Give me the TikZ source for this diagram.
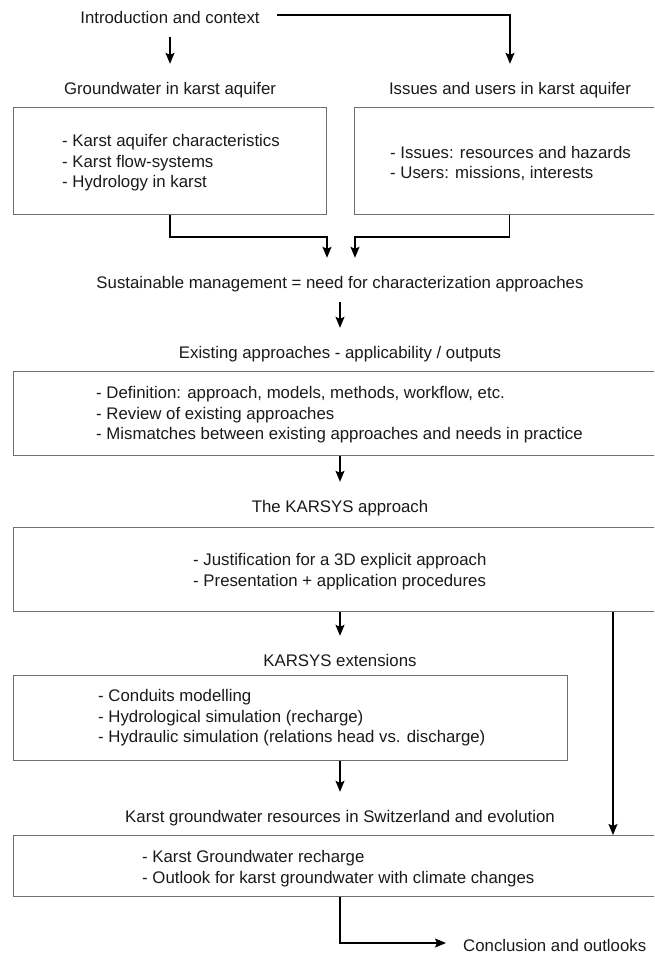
\documentclass[tikz,border=0pt]{standalone}
\usepackage{fontspec}
\setmainfont{Liberation Sans}
\usetikzlibrary{arrows.meta,calc}

\definecolor{ink}{HTML}{1A1A1A}
\definecolor{frame}{HTML}{6E6E6E}

\tikzset{
  basefont/.style={font=\fontsize{16.8}{20.5}\selectfont, text=ink},
  label/.style={basefont, inner xsep=17pt, inner ysep=0pt,
    text height=30.5pt, text depth=13.5pt, anchor=base},
  stepbox/.style={draw=frame, line width=1.1pt, inner sep=0pt, anchor=north west},
  bodytext/.style={basefont, align=left, inner sep=0pt, anchor=west},
  arr/.style={draw=black, line width=1.5pt,
    -{Stealth[length=11pt, width=9pt, inset=2pt]}},
  link/.style={draw=black, line width=1.5pt}
}

\begin{document}
\begin{tikzpicture}[x=1pt, y=-1pt]
  \useasboundingbox (0,0) rectangle (654,956);
  \fill[white] (0,0) rectangle (654,956);
  \clip (0,0) rectangle (654,956);

  % section titles
  \node[label] (n0)  at (170,23.5)  {Introduction and context};
  \node[label] (n1)  at (170,94.5)  {Groundwater in karst aquifer};
  \node[label] (n2)  at (510,94.5)  {Issues and users in karst aquifer};
  \node[label] (n3)  at (340,288.5) {Sustainable management = need for characterization approaches};
  \node[label] (n3a) at (340,358.5) {Existing approaches - applicability / outputs};
  \node[label] (n4)  at (340,512.5) {The KARSYS approach};
  \node[label] (n5)  at (340,666.5) {KARSYS extensions};
  \node[label] (n6)  at (340,822.5) {Karst groundwater resources in Switzerland and evolution};
  \node[label, anchor=base west] (n7) at (446,951.5) {Conclusion and outlooks};

  % content boxes
  \node[stepbox, minimum width=313, minimum height=107] (b1) at (13,107) {};
  \node[stepbox, minimum width=310, minimum height=107] (b2) at (354,107) {};
  \node[stepbox, minimum width=651, minimum height=84]  (b3) at (13,371) {};
  \node[stepbox, minimum width=651, minimum height=84]  (b4) at (13,527) {};
  \node[stepbox, minimum width=554, minimum height=85]  (b5) at (13,675) {};
  \node[stepbox, minimum width=651, minimum height=61]  (b6) at (13,835) {};

  % box contents
  \node[bodytext] (t1) at (62,163.1) {- Karst aquifer characteristics\\- Karst flow-systems\\- Hydrology in karst};
  \node[bodytext] (t2) at (390,163.4) {- Issues: resources and hazards\\- Users: missions, interests};
  \node[bodytext] (t3) at (96,415.1) {- Definition: approach, models, methods, workflow, etc.\\- Review of existing approaches\\- Mismatches between existing approaches and needs in practice};
  \node[bodytext] (t4) at (193,571.4) {- Justification for a 3D explicit approach\\- Presentation + application procedures};
  \node[bodytext] (t5) at (98,718.1) {- Conduits modelling\\- Hydrological simulation (recharge)\\- Hydraulic simulation (relations head vs. discharge)};
  \node[bodytext] (t6) at (142,868.8) {- Karst Groundwater recharge\\- Outlook for karst groundwater with climate changes};

  % connectors
  \draw[arr] (n0.south) -- (n1.north);
  \draw[arr] (n0.east) -| (n2.north);
  \draw[arr] (b1.south) -- ++(0,22) -| ([xshift=-13pt]n3.north);
  \draw[arr] (b2.south) -- ++(0,22) -| ([xshift=15pt]n3.north);
  \draw[arr] (n3.south) -- (n3a.north);
  \draw[arr] (n4.north |- b3.south) -- (n4.north);
  \draw[arr] (n5.north |- b4.south) -- (n5.north);
  \draw[arr] ($(b4.south west)+(600,0)$) -- ($(b6.north west)+(600,0)$);
  \draw[arr] (n6.north |- b5.south) -- (n6.north);
  \draw[arr] (n3.south |- b6.south) |- (n7.west);
\end{tikzpicture}
\end{document}
